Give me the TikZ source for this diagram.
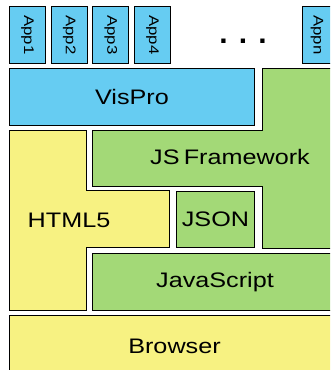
\documentclass[tikz,border=0pt]{standalone}
\usepackage{fontspec}
\setmainfont{Liberation Sans}
\usetikzlibrary{positioning}
\definecolor{visblue}{RGB}{102,204,242}
\definecolor{jsgreen}{RGB}{163,217,119}
\definecolor{webyellow}{RGB}{247,242,130}
\newcommand{\wide}[1]{\scalebox{1.2}[1]{#1}}
\tikzset{
	layer/.style={draw=black,line width=1pt,anchor=north west,inner sep=0pt,
		font=\fontsize{21}{21}\selectfont},
	app box/.style={layer,fill=visblue,minimum width=36pt,minimum height=57pt},
	app label/.style={font=\fontsize{14}{14}\selectfont,rotate=-90},
	big label/.style={font=\fontsize{21}{21}\selectfont},
	shape line/.style={draw=black,line width=1pt,line join=miter}
}

\begin{document}
\begin{tikzpicture}[x=1pt,y=-1pt]
		\useasboundingbox (0,0) rectangle (330,370);
		\clip (0,0) rectangle (330,370);
		% apps on top
		\foreach \i in {1,...,4}{
			\node [app box] (app\i) at ({9+41.7*(\i-1)},6) {};
			\node [app label] at (app\i.center) {\wide{App\i}};
		}
		\node [font=\fontsize{30}{30}\selectfont\bfseries] (dots) at (243,41) {. . .};
		\node [app box] (appn) at (302,6) {};
		\node [app label] at (317,35) {\wide{Appn}};
		% middle layers
		\node [layer,fill=visblue,minimum width=245pt,minimum height=57pt] (vispro) at (9,68) {\wide{VisPro}};
		\path [shape line,fill=jsgreen] (262,68) -- (337,68) -- (337,248) -- (262,248) -- (262,186)
			-- (92,186) -- (92,130) -- (262,130) -- cycle;
		\node [big label] (jsframework) at (230,157) {\wide{JS\,Framework}};
		\path [shape line,fill=webyellow] (9,130) -- (86,130) -- (86,190) -- (169,190) -- (169,247)
			-- (86,247) -- (86,310) -- (9,310) -- cycle;
		\node [big label] (html5) at (69,220) {\wide{HTML5}};
		\node [layer,fill=jsgreen,minimum width=78pt,minimum height=56pt] (json) at (176,191) {\wide{JSON}};
		\node [layer,fill=jsgreen,minimum width=245pt,minimum height=57pt] (javascript) at (92,253) {\wide{JavaScript}};
		% bottom
		\node [layer,fill=webyellow,minimum width=330pt,minimum height=62pt] (browser) at (9,315) {\wide{Browser}};
\end{tikzpicture}
\end{document}
